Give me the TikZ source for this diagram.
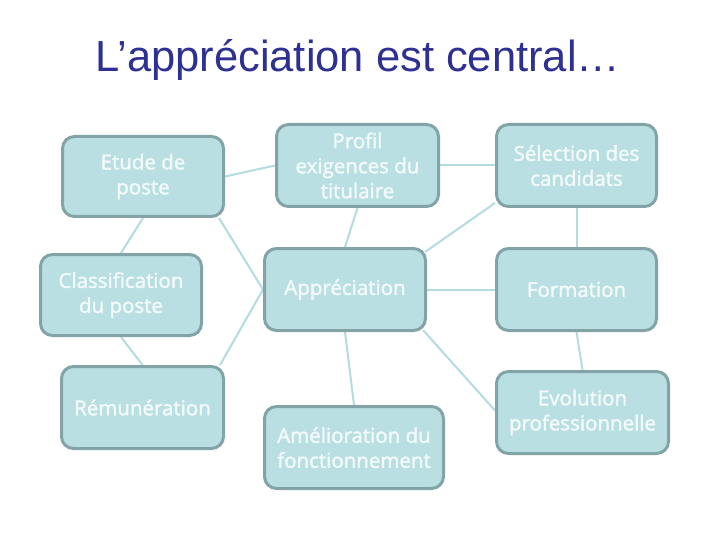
\documentclass[tikz,border=0pt]{standalone}
\usepackage{fontspec}
\setmainfont{Open Sans}
\newfontfamily\boxfont{Open Sans}[FakeBold=1.8]
\newfontfamily\titlefont{Liberation Sans}
\usetikzlibrary{backgrounds,calc}
\definecolor{boxfill}{HTML}{B9DFE3}
\definecolor{boxdraw}{HTML}{83A4A6}
\definecolor{conn}{HTML}{B4DCE0}
\definecolor{boxtext}{HTML}{F3FAFA}
\definecolor{titleblue}{RGB}{46,49,146}
\tikzset{
  card/.style={draw=boxdraw, line width=3pt, fill=boxfill, rounded corners=12pt,
    inner sep=0pt, align=center, text=boxtext,
    font=\boxfont\fontsize{20.5}{25}\selectfont},
  link/.style={draw=conn, line width=2pt}
}
\begin{document}
\begin{tikzpicture}[x=1pt,y=-1pt]
\useasboundingbox (0,0) rectangle (720,540);
\node[anchor=base, text=titleblue, font=\titlefont\fontsize{43.5}{50}\selectfont] (title) at (358,72) {L’appréciation est central…};

\node[card, minimum width=161pt, minimum height=80pt] (etude) at (143,176.5) {Etude de\\poste};
\node[card, minimum width=161pt, minimum height=81pt] (classif) at (121,295) {Classification\\du poste};
\node[card, minimum width=162pt, minimum height=82pt] (remun) at (142.5,407.5) {Rémunération};
\node[card, minimum width=162pt, minimum height=82pt] (profil) at (357.5,165.5) {Profil\\exigences du\\titulaire};
\node[card, minimum width=161pt, minimum height=82pt] (apprec) at (345,289.5) {Appréciation};
\node[card, minimum width=179pt, minimum height=82pt] (amelio) at (354,447.5) {Amélioration du\\fonctionnement};
\node[card, minimum width=160pt, minimum height=82pt] (select) at (576.5,165.5) {Sélection des\\candidats};
\node[card, minimum width=160pt, minimum height=82pt] (format) at (576.5,289.5) {Formation};
\node[card, minimum width=172pt, minimum height=82pt] (evol) at (582.5,412.5) {Evolution\\professionnelle};

\begin{scope}[on background layer]
\fill[white] (0,0) rectangle (720,540);
\draw[link] (etude.east) -- (profil.west);
\draw[link] (etude.south) -- (classif.north);
\draw[link] ($(etude.south east)+(-6,0)$) -- (apprec.west);
\draw[link] (apprec.west) -- ($(remun.north east)+(-5,0)$);
\draw[link] (classif.south) -- (remun.north);
\draw[link] (profil.south) -- (apprec.north);
\draw[link] (profil.east) -- (select.west);
\draw[link] ($(apprec.north east)+(-2,5)$) -- ($(select.south west)+(0,-5)$);
\draw[link] (apprec.east) -- (format.west);
\draw[link] (apprec.south) -- (amelio.north);
\draw[link] ($(apprec.south east)+(-4,-2)$) -- ($(evol.west)+(0,-2)$);
\draw[link] (select.south) -- (format.north);
\draw[link] (format.south) -- (evol.north);
\end{scope}
\end{tikzpicture}
\end{document}
